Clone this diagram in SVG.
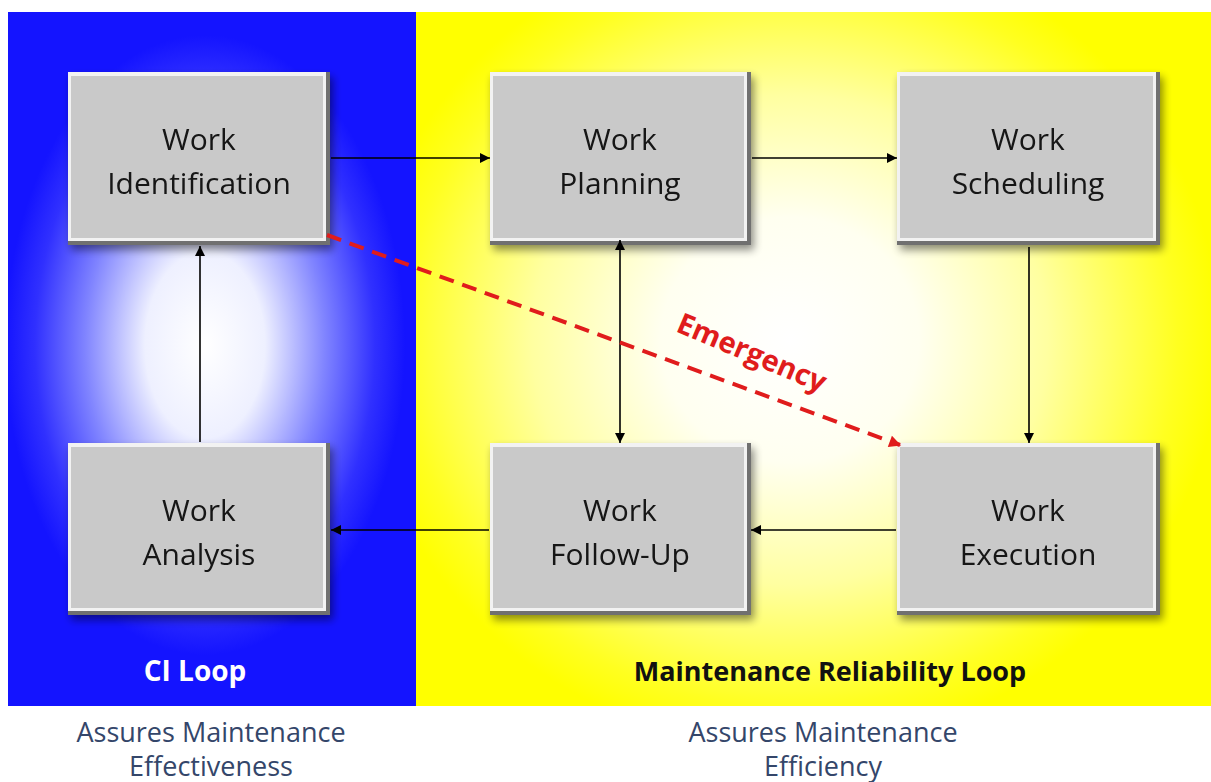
<svg xmlns="http://www.w3.org/2000/svg" width="1211" height="782" viewBox="0 0 1211 782">
<defs>
<radialGradient id="gBlue" gradientUnits="userSpaceOnUse" cx="205" cy="345" r="200" gradientTransform="translate(205 345) scale(1 1.55) translate(-205 -345)">
<stop offset="0" stop-color="#ffffff"/>
<stop offset="0.3" stop-color="#eef0ff"/>
<stop offset="0.6" stop-color="#8084ff"/>
<stop offset="0.85" stop-color="#3030ff"/>
<stop offset="1" stop-color="#1414ff"/>
</radialGradient>
<radialGradient id="gYellow" gradientUnits="userSpaceOnUse" cx="790" cy="340" r="430" gradientTransform="translate(790 340) scale(1 0.95) translate(-790 -340)">
<stop offset="0" stop-color="#ffffff"/>
<stop offset="0.3" stop-color="#fffff0"/>
<stop offset="0.6" stop-color="#ffffa0"/>
<stop offset="0.9" stop-color="#ffff20"/>
<stop offset="1" stop-color="#ffff00"/>
</radialGradient>
<filter id="sh" x="-10%" y="-10%" width="125%" height="130%">
<feGaussianBlur in="SourceAlpha" stdDeviation="4"/>
<feOffset dx="3" dy="5" result="b"/>
<feComponentTransfer><feFuncA type="linear" slope="0.45"/></feComponentTransfer>
<feMerge><feMergeNode/><feMergeNode in="SourceGraphic"/></feMerge>
</filter>
<marker id="ah" viewBox="0 0 10 10" refX="10" refY="5" markerWidth="11" markerHeight="10" markerUnits="userSpaceOnUse" orient="auto-start-reverse">
<path d="M0,0 L10,5 L0,10 z" fill="#000"/>
</marker>
<marker id="ahr" viewBox="0 0 10 10" refX="9" refY="5" markerWidth="14" markerHeight="12" markerUnits="userSpaceOnUse" orient="auto">
<path d="M0,0 L10,5 L0,10 z" fill="#e01c1c"/>
</marker>
</defs>
<style>
.box{fill:#c9c9c9;}
.hl{fill:#f2f2f2;}
.dk{fill:#6f6f6f;}
.lbl{font-family:"Open Sans","Liberation Sans",sans-serif;font-size:30px;fill:#151515;text-anchor:middle;}
.con{stroke:#000;stroke-width:1.6;fill:none;}
.sub{font-family:"Open Sans","Liberation Sans",sans-serif;font-size:27px;fill:#34466a;text-anchor:middle;}
.loop{font-family:"Open Sans","Liberation Sans",sans-serif;font-weight:bold;text-anchor:middle;}
</style>
<rect width="1211" height="782" fill="#ffffff"/>
<g id="panel-ci">
<rect x="8" y="12" width="408" height="694" fill="url(#gBlue)"/>
<text class="loop" x="195" y="681" font-size="28" fill="#ffffff">CI Loop</text>
</g>
<g id="panel-mr">
<rect x="416" y="12" width="795" height="694" fill="url(#gYellow)"/>
<text class="loop" x="830" y="681" font-size="27" fill="#111111">Maintenance Reliability Loop</text>
</g>
<g id="node-identification" filter="url(#sh)">
<rect class="dk" x="68" y="72" width="262" height="173"/>
<rect class="hl" x="68" y="72" width="258" height="169"/>
<rect class="box" x="71" y="76" width="252" height="162"/>
<text class="lbl" x="199" y="150">Work</text>
<text class="lbl" x="199" y="194">Identification</text>
</g>
<g id="node-planning" filter="url(#sh)">
<rect class="dk" x="490" y="72" width="261" height="173"/>
<rect class="hl" x="490" y="72" width="257" height="169"/>
<rect class="box" x="493" y="76" width="251" height="162"/>
<text class="lbl" x="620" y="150">Work</text>
<text class="lbl" x="620" y="194">Planning</text>
</g>
<g id="node-scheduling" filter="url(#sh)">
<rect class="dk" x="897" y="72" width="263" height="173"/>
<rect class="hl" x="897" y="72" width="259" height="169"/>
<rect class="box" x="900" y="76" width="253" height="162"/>
<text class="lbl" x="1028" y="150">Work</text>
<text class="lbl" x="1028" y="194">Scheduling</text>
</g>
<g id="node-analysis" filter="url(#sh)">
<rect class="dk" x="68" y="443" width="262" height="172"/>
<rect class="hl" x="68" y="443" width="258" height="168"/>
<rect class="box" x="71" y="447" width="252" height="161"/>
<text class="lbl" x="199" y="521">Work</text>
<text class="lbl" x="199" y="565">Analysis</text>
</g>
<g id="node-followup" filter="url(#sh)">
<rect class="dk" x="490" y="443" width="261" height="172"/>
<rect class="hl" x="490" y="443" width="257" height="168"/>
<rect class="box" x="493" y="447" width="251" height="161"/>
<text class="lbl" x="620" y="521">Work</text>
<text class="lbl" x="620" y="565">Follow-Up</text>
</g>
<g id="node-execution" filter="url(#sh)">
<rect class="dk" x="897" y="443" width="263" height="172"/>
<rect class="hl" x="897" y="443" width="259" height="168"/>
<rect class="box" x="900" y="447" width="253" height="161"/>
<text class="lbl" x="1028" y="521">Work</text>
<text class="lbl" x="1028" y="565">Execution</text>
</g>
<g id="connectors">
<line class="con" x1="331" y1="158" x2="490" y2="158" marker-end="url(#ah)"/>
<line class="con" x1="752" y1="158" x2="897" y2="158" marker-end="url(#ah)"/>
<line class="con" x1="1029" y1="247" x2="1029" y2="443" marker-end="url(#ah)"/>
<line class="con" x1="896" y1="530" x2="751" y2="530" marker-end="url(#ah)"/>
<line class="con" x1="489" y1="530" x2="331" y2="530" marker-end="url(#ah)"/>
<line class="con" x1="200" y1="442" x2="200" y2="246" marker-end="url(#ah)"/>
<line class="con" x1="620" y1="240" x2="620" y2="443" marker-start="url(#ah)" marker-end="url(#ah)"/>
<line x1="327" y1="235" x2="900" y2="445" stroke="#e01c1c" stroke-width="4" stroke-dasharray="15 9" marker-end="url(#ahr)"/>
<text x="0" y="0" transform="translate(748 362) rotate(23)" font-family="'Open Sans','Liberation Sans',sans-serif" font-size="29" font-weight="bold" fill="#e01c1c" text-anchor="middle">Emergency</text>
</g>
<g id="captions">
<text class="sub" x="211" y="742">Assures Maintenance</text>
<text class="sub" x="211" y="776">Effectiveness</text>
<text class="sub" x="823" y="742">Assures Maintenance</text>
<text class="sub" x="823" y="776">Efficiency</text>
</g>
</svg>
